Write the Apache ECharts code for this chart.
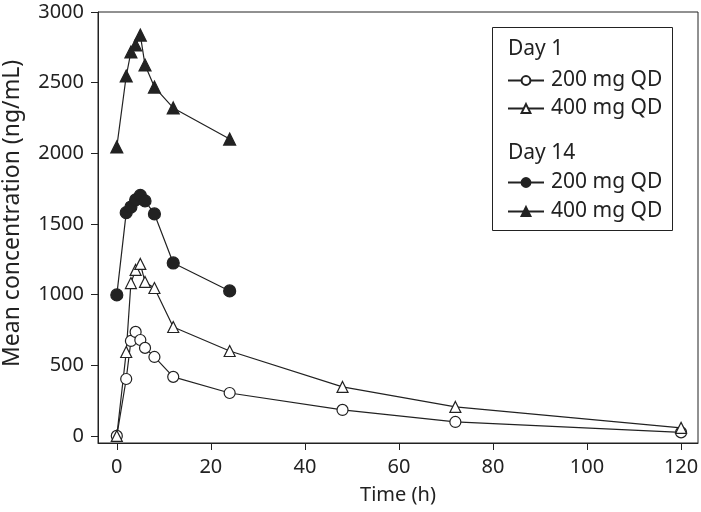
<!DOCTYPE html>
<html>
<head>
<meta charset="utf-8">
<script src="https://cdn.jsdelivr.net/npm/echarts@6/dist/echarts.min.js"></script>
<style>html,body{margin:0;padding:0;background:#fff}#c{width:701px;height:512px}</style>
</head>
<body>
<div id="c"></div>
<script>
const xTicks = [0, 20, 40, 60, 80, 100, 120];
const yTicks = [0, 500, 1000, 1500, 2000, 2500, 3000];
const day1Times = [0, 2, 3, 4, 5, 6, 8, 12, 24, 48, 72, 120];
const day1_200 = [0, 403, 672, 736, 679, 623, 559, 418, 304, 184, 99, 25];
const day1_400 = [0, 594, 1082, 1175, 1217, 1090, 1047, 771, 601, 347, 205, 57];
const day14Times = [0, 2, 3, 4, 5, 6, 8, 12, 24];
const day14_200 = [998, 1580, 1620, 1670, 1702, 1663, 1571, 1224, 1026];
const day14_400 = [2045, 2547, 2717, 2767, 2837, 2625, 2469, 2321, 2101];

const ink = '#222';
const font = 'Noto Sans';
function pairs(t, v) { return t.map((x, i) => [x, v[i]]); }
function ser(name, t, v, symbol, filled) {
  return {
    name: name, type: 'line', data: pairs(t, v), symbol: symbol, symbolSize: filled ? 12 : 11,
    lineStyle: { color: ink, width: 1.2 },
    itemStyle: { color: filled ? ink : '#fff', borderColor: ink, borderWidth: 1.2 },
    emphasis: { disabled: true }, animation: false, z: filled ? 3 : 4
  };
}
const chart = echarts.init(document.getElementById('c'));
const legendCommon = {
  orient: 'vertical', left: 507, itemWidth: 36, itemHeight: 11,
  textStyle: { fontFamily: font, fontSize: 21, color: ink, padding: [0, 0, 0, 2] },
  formatter: n => n.split('|')[0], selectedMode: false, padding: 0
};
chart.setOption({
  animation: false,
  grid: { left: 98, right: 3, top: 12, bottom: 69, show: true, borderColor: ink, borderWidth: 1,
          containLabel: false, outerBoundsMode: 'none' },
  xAxis: {
    type: 'value', min: -4, max: 123.6,
    name: 'Time (h)', nameLocation: 'middle', nameGap: 42,
    nameTextStyle: { fontFamily: font, fontSize: 20, color: ink },
    axisLine: { show: true, onZero: false, lineStyle: { color: ink, width: 1 } },
    axisTick: { show: true, length: 7, customValues: xTicks, lineStyle: { color: ink } },
    axisLabel: { customValues: xTicks, fontFamily: font, fontSize: 20, color: ink, margin: 14 },
    splitLine: { show: false }
  },
  yAxis: {
    type: 'value', min: -50, max: 3000,
    name: 'Mean concentration (ng/mL)', nameLocation: 'middle', nameGap: 74,
    nameTextStyle: { fontFamily: font, fontSize: 23, color: ink, padding: [0, 0, 0, 28] },
    axisLine: { show: true, onZero: false, lineStyle: { color: ink, width: 1 } },
    axisTick: { show: true, length: 7, customValues: yTicks, lineStyle: { color: ink } },
    axisLabel: { customValues: yTicks, formatter: v => String(v), fontFamily: font, fontSize: 20, color: ink, margin: 14 },
    splitLine: { show: false }
  },
  legend: [
    Object.assign({ top: 70, itemGap: 7, data: ['200 mg QD|d1', '400 mg QD|d1'] }, legendCommon),
    Object.assign({ top: 172, itemGap: 8, data: ['200 mg QD|d14', '400 mg QD|d14'] }, legendCommon)
  ],
  graphic: [
    { type: 'rect', shape: { x: 492.5, y: 27.5, width: 180, height: 203 }, style: { fill: '#fff', stroke: ink, lineWidth: 1 }, z: 0 },
    { type: 'text', x: 508, y: 49, style: { text: 'Day 1', fontFamily: font, fontSize: 21, fill: ink, verticalAlign: 'middle' }, z: 1 },
    { type: 'text', x: 508, y: 153, style: { text: 'Day 14', fontFamily: font, fontSize: 21, fill: ink, verticalAlign: 'middle' }, z: 1 }
  ],
  series: [
    ser('200 mg QD|d1', day1Times, day1_200, 'circle', false),
    ser('400 mg QD|d1', day1Times, day1_400, 'triangle', false),
    ser('200 mg QD|d14', day14Times, day14_200, 'circle', true),
    ser('400 mg QD|d14', day14Times, day14_400, 'triangle', true)
  ]
});
</script>
</body>
</html>
